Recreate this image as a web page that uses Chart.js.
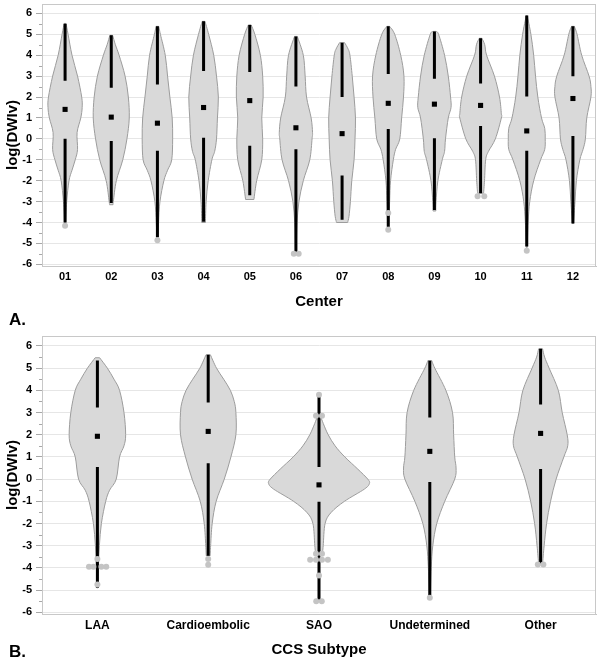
<!DOCTYPE html>
<html lang="en">
<head>
<meta charset="UTF-8">
<title>log(DWIv) by Center and CCS Subtype</title>
<script src="https://cdn.jsdelivr.net/npm/chart.js"></script>
<style>
  * { margin: 0; padding: 0; box-sizing: border-box; }
  body { background: #fff; font-family: 'Liberation Sans', Arial, sans-serif; }
  #page { position: relative; width: 600px; height: 659px; }
  .panel { position: absolute; left: 0; width: 600px; }
  .tag { position: absolute; left: 9px; font: bold 17px 'Liberation Sans', Arial, sans-serif; color: #000; line-height: 1; }
</style>
</head>
<body>
<div id="page">
  <div class="panel" style="top:0;height:330px"><canvas id="centerChart"></canvas></div>
  <div class="panel" style="top:330px;height:329px"><canvas id="subtypeChart"></canvas></div>
  <div class="tag" style="top:311px">A.</div>
  <div class="tag" style="top:643px">B.</div>
</div>

<script>
// ---- panel A: log(DWIv) by center ----
const centerLabels = ['01', '02', '03', '04', '05', '06', '07', '08', '09', '10', '11', '12'];
const centerMax    = [5.5, 4.95, 5.38, 5.62, 5.45, 4.9, 4.6, 5.38, 5.14, 4.81, 5.9, 5.38];
const centerQ3     = [2.78, 2.45, 2.6, 3.25, 3.2, 2.5, 2.0, 3.1, 2.87, 2.65, 2.03, 3.0];
const centerMedian = [1.41, 1.04, 0.75, 1.5, 1.83, 0.53, 0.25, 1.7, 1.66, 1.6, 0.38, 1.93];
const centerQ1     = [0.0, -0.1, -0.57, 0.05, -0.33, -0.5, -1.75, 0.47, 0.03, 0.61, -0.57, 0.14];
const centerMin    = [-4.0, -3.07, -4.7, -3.96, -2.7, -5.5, -3.87, -4.2, -3.4, -2.6, -5.15, -4.05];
// density outline: [value, half width in category units]
const centerShapes = [
  [[5.52,0.02],[5,0.065],[4,0.15],[3,0.27],[2,0.36],[1.5,0.37],[1,0.34],[0.3,0.26],[-0.5,0.27],[-1,0.22],[-1.5,0.15],[-2,0.085],[-3,0.035],[-4.1,0.01]],
  [[4.95,0.03],[4.5,0.09],[4,0.17],[3,0.3],[2,0.37],[1,0.39],[0,0.34],[-1,0.25],[-2,0.11],[-3,0.045],[-3.15,0.04]],
  [[5.38,0.03],[5,0.065],[4,0.17],[3,0.22],[2,0.27],[1,0.32],[0,0.33],[-1,0.31],[-1.5,0.22],[-2,0.14],[-3,0.055],[-4,0.025],[-4.85,0.01]],
  [[5.62,0.03],[5,0.11],[4,0.22],[3,0.28],[2,0.32],[1,0.3],[0,0.28],[-0.6,0.24],[-1,0.18],[-2,0.1],[-3,0.055],[-4,0.04]],
  [[5.45,0.03],[5,0.11],[4,0.23],[3,0.28],[2,0.29],[1,0.26],[0,0.28],[-1,0.26],[-2,0.15],[-2.9,0.09]],
  [[4.9,0.03],[4,0.16],[3,0.2],[2,0.23],[1,0.33],[0.3,0.36],[0,0.35],[-1,0.3],[-2,0.16],[-3,0.065],[-4,0.025],[-5,0.012],[-5.5,0.008]],
  [[4.6,0.055],[4.3,0.13],[4,0.17],[3,0.22],[2,0.26],[1,0.29],[0,0.28],[-1,0.26],[-2,0.21],[-3,0.18],[-3.7,0.15],[-4,0.12]],
  [[5.38,0.03],[5,0.14],[4,0.27],[3,0.34],[2,0.33],[1,0.29],[0,0.25],[-0.5,0.16],[-1,0.11],[-2,0.05],[-3,0.03],[-4.35,0.01]],
  [[5.14,0.03],[5,0.09],[4,0.22],[3,0.3],[2,0.35],[1.5,0.36],[1,0.3],[0,0.24],[-0.6,0.22],[-1,0.17],[-2,0.075],[-3,0.035],[-3.45,0.03]],
  [[4.81,0.03],[4.5,0.09],[4,0.13],[3,0.3],[2,0.41],[1.2,0.45],[1,0.45],[0,0.32],[-0.6,0.17],[-1,0.11],[-2,0.085],[-2.6,0.065]],
  [[5.9,0.01],[5,0.09],[4,0.15],[3,0.19],[2,0.24],[1,0.32],[0.5,0.39],[0,0.4],[-0.5,0.39],[-1,0.3],[-2,0.15],[-3,0.065],[-4,0.03],[-5.2,0.01]],
  [[5.38,0.03],[5,0.09],[4,0.19],[3,0.35],[2.5,0.39],[2,0.39],[1,0.3],[0,0.27],[-0.5,0.22],[-1,0.15],[-2,0.075],[-3,0.045],[-4.05,0.01]]
];
const centerOutliers = [
  {x: 0, y: -4.15}, {x: 2, y: -4.85}, {x: 4.955, y: -5.5}, {x: 5.06, y: -5.5},
  {x: 7, y: -3.55}, {x: 7, y: -4.35}, {x: 8.935, y: -2.75}, {x: 9.08, y: -2.75},
  {x: 10, y: -5.35}
];

// ---- panel B: log(DWIv) by CCS subtype ----
const subtypeLabels = ['LAA', 'Cardioembolic', 'SAO', 'Undetermined', 'Other'];
const subtypeMax    = [5.35, 5.6, 3.75, 5.34, 5.87];
const subtypeQ3     = [3.23, 3.45, 0.54, 2.78, 3.36];
const subtypeMedian = [1.93, 2.15, -0.26, 1.25, 2.06];
const subtypeQ1     = [0.54, 0.72, -1.02, -0.13, 0.45];
const subtypeMin    = [-4.9, -3.45, -5.5, -5.25, -3.8];
const subtypeShapes = [
  [[5.47,0.02],[5,0.09],[4.5,0.15],[4,0.2],[3,0.24],[2,0.255],[1.5,0.24],[1,0.2],[0,0.17],[-0.5,0.11],[-1,0.075],[-2,0.036],[-3,0.018],[-4,0.009],[-4.9,0.005]],
  [[5.6,0.02],[5,0.075],[4.5,0.14],[4,0.2],[3.5,0.235],[3,0.25],[2,0.25],[1,0.205],[0,0.145],[-1,0.072],[-2,0.036],[-3,0.022],[-3.45,0.018]],
  [[2.85,0.013],[2.5,0.039],[2,0.083],[1.5,0.145],[1,0.233],[0.45,0.35],[0,0.44],[-0.2,0.455],[-0.45,0.41],[-1,0.23],[-1.5,0.11],[-2,0.055],[-3,0.038],[-3.4,0.03]],
  [[5.34,0.018],[5,0.045],[4,0.145],[3,0.205],[2,0.215],[1,0.225],[0.5,0.237],[0,0.225],[-1,0.135],[-2,0.063],[-3,0.027],[-4,0.013],[-5.25,0.005]],
  [[5.87,0.018],[5.5,0.036],[5,0.077],[4,0.16],[3,0.195],[2,0.24],[1.5,0.245],[1,0.21],[0,0.14],[-1,0.09],[-2,0.054],[-3,0.032],[-3.8,0.018]]
];
const subtypeOutliers = [
  {x: 0, y: -3.6}, {x: -0.076, y: -3.95}, {x: -0.036, y: -3.95}, {x: 0.036, y: -3.95}, {x: 0.08, y: -3.95}, {x: 0, y: -4.75},
  {x: 1, y: -3.6}, {x: 1, y: -3.86},
  {x: 2, y: 3.8}, {x: 1.973, y: 2.85}, {x: 2.027, y: 2.85},
  {x: 1.973, y: -3.36}, {x: 2.027, y: -3.36},
  {x: 1.92, y: -3.63}, {x: 1.973, y: -3.63}, {x: 2.027, y: -3.63}, {x: 2.08, y: -3.63},
  {x: 2, y: -4.35}, {x: 1.975, y: -5.5}, {x: 2.025, y: -5.5},
  {x: 3, y: -5.35},
  {x: 3.975, y: -3.85}, {x: 4.025, y: -3.85}
];

const yTicks = [-6, -5, -4, -3, -2, -1, 0, 1, 2, 3, 4, 5, 6];
const yMin = -6.08, yMax = 6.45;

function curveThrough(ctx, pts) {
  for (let i = 0; i < pts.length - 1; i++) {
    const p0 = pts[Math.max(i - 1, 0)], p1 = pts[i], p2 = pts[i + 1], p3 = pts[Math.min(i + 2, pts.length - 1)];
    ctx.bezierCurveTo(
      p1[0] + (p2[0] - p0[0]) / 6, p1[1] + (p2[1] - p0[1]) / 6,
      p2[0] - (p3[0] - p1[0]) / 6, p2[1] - (p3[1] - p1[1]) / 6,
      p2[0], p2[1]);
  }
}

function violinPlugin(p) {
  return {
    id: 'violins',
    beforeDatasetsDraw(chart) {
      const {ctx, chartArea: a, scales: {x, y}} = chart;
      ctx.save();
      // frame
      ctx.strokeStyle = '#c8c8c8';
      ctx.lineWidth = 1;
      ctx.strokeRect(a.left + 0.5, a.top + 0.5, a.right - a.left - 1, a.bottom - a.top);
      // minor ticks at half units
      ctx.strokeStyle = '#a8a8a8';
      ctx.beginPath();
      yTicks.slice(0, -1).forEach(v => {
        const py = Math.round(y.getPixelForValue(v + 0.5)) + 0.5;
        ctx.moveTo(a.left - 3, py);
        ctx.lineTo(a.left, py);
      });
      ctx.stroke();

      p.shapes.forEach((shape, i) => {
        const right = shape.map(([v, w]) => [x.getPixelForValue(i + w), y.getPixelForValue(v)]);
        const left = shape.map(([v, w]) => [x.getPixelForValue(i - w), y.getPixelForValue(v)]).reverse();
        ctx.beginPath();
        ctx.moveTo(left[left.length - 1][0], left[left.length - 1][1]);
        ctx.lineTo(right[0][0], right[0][1]);
        curveThrough(ctx, right);
        ctx.lineTo(left[0][0], left[0][1]);
        curveThrough(ctx, left);
        ctx.closePath();
        ctx.fillStyle = '#d9d9d9';
        ctx.fill();
        ctx.strokeStyle = '#9c9c9c';
        ctx.lineWidth = 1;
        ctx.stroke();

        const cx = x.getPixelForValue(i);
        ctx.beginPath();
        ctx.moveTo(cx, y.getPixelForValue(p.max[i]));
        ctx.lineTo(cx, y.getPixelForValue(p.q3[i]));
        ctx.moveTo(cx, y.getPixelForValue(p.q1[i]));
        ctx.lineTo(cx, y.getPixelForValue(p.min[i]));
        ctx.strokeStyle = '#000';
        ctx.lineWidth = 3;
        ctx.stroke();
      });
      ctx.restore();
    }
  };
}

function buildChart(id, p) {
  const n = p.labels.length;
  return new Chart(document.getElementById(id), {
    type: 'scatter',
    data: {
      datasets: [
        { data: p.median.map((v, i) => ({x: i, y: v})), pointStyle: 'rect', radius: 3.6, backgroundColor: '#000', borderWidth: 0 },
        { data: p.outliers, pointStyle: 'circle', radius: 3, backgroundColor: '#c4c4c4', borderWidth: 0 }
      ]
    },
    options: {
      responsive: true,
      maintainAspectRatio: false,
      animation: false,
      layout: { padding: { top: p.top, right: 3, left: 0, bottom: 0 } },
      plugins: { legend: { display: false }, tooltip: { enabled: false } },
      scales: {
        x: {
          type: 'linear', min: -0.5, max: n - 0.5,
          afterBuildTicks: s => { s.ticks = p.labels.map((_, i) => ({value: i})); },
          afterFit: s => { s.height = p.xHeight; s.paddingLeft = 0; s.paddingRight = 0; },
          grid: { display: false, drawTicks: false },
          border: { color: '#c4c4c4' },
          ticks: {
            callback: v => p.labels[v], color: '#000', padding: 4, maxRotation: 0, autoSkip: false,
            font: { family: "'Liberation Sans', Arial, sans-serif", size: p.tickSize, weight: 'bold' }
          },
          title: {
            display: true, text: p.title, color: '#000', padding: { top: 0, bottom: p.titlePad },
            font: { family: "'Liberation Sans', Arial, sans-serif", size: 15, weight: 'bold' }
          }
        },
        y: {
          min: yMin, max: yMax,
          afterBuildTicks: s => { s.ticks = yTicks.map(v => ({value: v})); },
          afterFit: s => { s.width = 42; s.paddingTop = 0; s.paddingBottom = 0; },
          grid: { color: '#e6e6e6', tickColor: '#a8a8a8', tickLength: 6 },
          border: { color: '#c4c4c4' },
          ticks: {
            color: '#000', padding: 4,
            font: { family: "'Liberation Sans', Arial, sans-serif", size: 11, weight: 'bold' }
          },
          title: {
            display: true, text: 'log(DWIv)', color: '#000', padding: { top: 3.6, bottom: 0 },
            font: { family: "'Liberation Sans', Arial, sans-serif", size: 15, weight: 'bold' }
          }
        }
      }
    },
    plugins: [violinPlugin(p)]
  });
}

buildChart('centerChart', {
  labels: centerLabels, max: centerMax, q3: centerQ3, median: centerMedian, q1: centerQ1, min: centerMin,
  shapes: centerShapes, outliers: centerOutliers,
  title: 'Center', top: 1, xHeight: 64, titlePad: 19.6, tickSize: 11
});

buildChart('subtypeChart', {
  labels: subtypeLabels, max: subtypeMax, q3: subtypeQ3, median: subtypeMedian, q1: subtypeQ1, min: subtypeMin,
  shapes: subtypeShapes, outliers: subtypeOutliers,
  title: 'CCS Subtype', top: 6, xHeight: 45, titlePad: 0, tickSize: 12
});
</script>
</body>
</html>
